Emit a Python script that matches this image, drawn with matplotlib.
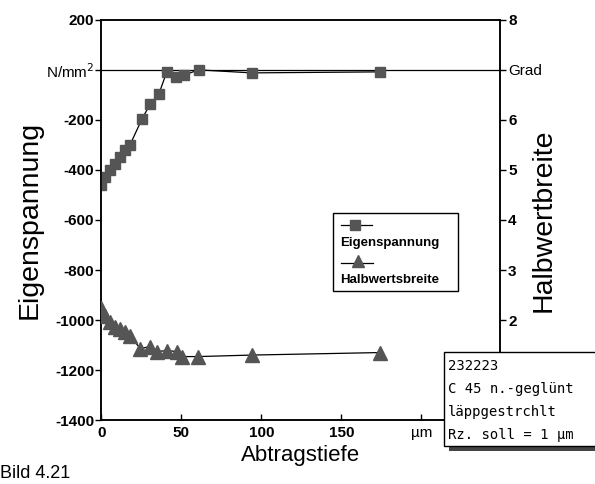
import matplotlib.pyplot as plt
from matplotlib.patches import Rectangle

plt.rcParams['font.family'] = ['Liberation Sans', 'DejaVu Sans']

# Eigenspannung (N/mm2) over Abtragstiefe (um)
depth_es = [0, 2.5, 5.6, 8.8, 11.9, 15, 18, 25.6, 30.6, 36, 41, 47, 52, 61, 94, 174]
stress = [-460, -428, -400, -375, -347, -320, -300, -195, -137, -97, -8, -28, -20, 0, -12, -8]

# Halbwertsbreite (Grad)
depth_hw = [0, 2.5, 5.6, 8.8, 11.9, 15, 18, 24.4, 30.6, 35, 41, 47.5, 50.6, 60.6, 94, 174]
hwb = [2.24, 2.09, 1.97, 1.87, 1.83, 1.77, 1.69, 1.43, 1.47, 1.37, 1.39, 1.37, 1.27, 1.27, 1.30, 1.35]

left_ticks = [200, 0, -200, -400, -600, -800, -1000, -1200, -1400]
left_labels = ['200', 'N/mm$^2$', '-200', '-400', '-600', '-800', '-1000', '-1200', '-1400']
right_ticks = [2, 3, 4, 5, 6, 7, 8]
right_labels = ['2', '3', '4', '5', '6', 'Grad', '8']
x_ticks = [0, 50, 100, 150, 200]
x_labels = ['0', '50', '100', '150', 'µm']

fig = plt.figure(figsize=(5.95, 4.84), dpi=100)
ax = fig.add_axes([0.170, 0.132, 0.670, 0.827])
ax2 = ax.twinx()

mcol = '#555555'
ax.axhline(0, color='black', lw=0.9, zorder=1)
ax.plot(depth_es, stress, color='black', lw=0.9, marker='s', markersize=7.5,
        markerfacecolor=mcol, markeredgecolor=mcol, zorder=3)
ax2.plot(depth_hw, hwb, color='black', lw=0.9, marker='^', markersize=9.5,
         markerfacecolor=mcol, markeredgecolor=mcol, zorder=3)

ax.set_xlim(0, 249)
ax.set_ylim(-1400, 200)
ax2.set_ylim(0, 8)

ax.set_yticks(left_ticks)
ax.set_yticklabels(left_labels)
ax2.set_yticks(right_ticks)
ax2.set_yticklabels(right_labels)
ax.set_xticks(x_ticks)
ax.set_xticklabels(x_labels)

for lab in ax.get_yticklabels() + ax2.get_yticklabels() + ax.get_xticklabels():
    if lab.get_text() in ('N/mm$^2$', 'Grad', 'µm'):
        lab.set_fontweight('normal')
        lab.set_fontsize(11)
    else:
        lab.set_fontweight('bold')
        lab.set_fontsize(11)

ax.tick_params(axis='y', direction='out', length=4, width=1, pad=1)
ax2.tick_params(axis='y', direction='out', length=4, width=1, pad=2)
ax.tick_params(axis='x', direction='in', length=4, width=1, pad=4)

for a in (ax, ax2):
    for s in a.spines.values():
        s.set_linewidth(1.1)

ax.set_xlabel('Abtragstiefe', fontsize=16, labelpad=4)
ax.set_ylabel('Eigenspannung', fontsize=20.5, labelpad=2)
ax2.set_ylabel('Halbwertbreite', fontsize=20.5, labelpad=-8)

# legend box
ax.add_patch(Rectangle((0.581, 0.3225), 0.314, 0.195, transform=ax.transAxes,
                       facecolor='white', edgecolor='black', lw=1.0, zorder=5))
ax.plot([0.602, 0.679], [0.4875, 0.4875], transform=ax.transAxes, color='black',
        lw=0.9, zorder=6)
ax.plot([0.637], [0.4875], transform=ax.transAxes, marker='s', markersize=7,
        color=mcol, zorder=7)
ax.text(0.600, 0.4425, 'Eigenspannung', transform=ax.transAxes, fontsize=9.5,
        fontweight='bold', va='center', ha='left', zorder=7)
ax.plot([0.602, 0.682], [0.3925, 0.3925], transform=ax.transAxes, color='black',
        lw=0.9, zorder=6)
ax.plot([0.644], [0.397], transform=ax.transAxes, marker='^', markersize=8,
        color=mcol, zorder=7)
ax.text(0.600, 0.350, 'Halbwertsbreite', transform=ax.transAxes, fontsize=9.5,
        fontweight='bold', va='center', ha='left', zorder=7)

# sample info box
fig.patches.append(Rectangle((0.755, 0.068), 0.26, 0.012, transform=fig.transFigure,
                             facecolor='#444444', edgecolor='none', zorder=9))
fig.patches.append(Rectangle((0.747, 0.078), 0.27, 0.194, transform=fig.transFigure,
                             facecolor='white', edgecolor='black', lw=1.0, zorder=10))
info = ['232223', 'C 45 n.-geglünt', 'läppgestrchlt', 'Rz. soll = 1 µm']
for i, t in enumerate(info):
    fig.text(0.753, 0.243 - i * 0.047, t, fontsize=10, family='DejaVu Sans Mono',
             va='center', ha='left', zorder=11)

fig.text(0.0, 0.004, 'Bild 4.21', fontsize=13, va='bottom', ha='left')

fig.savefig('out.png', dpi=100)
